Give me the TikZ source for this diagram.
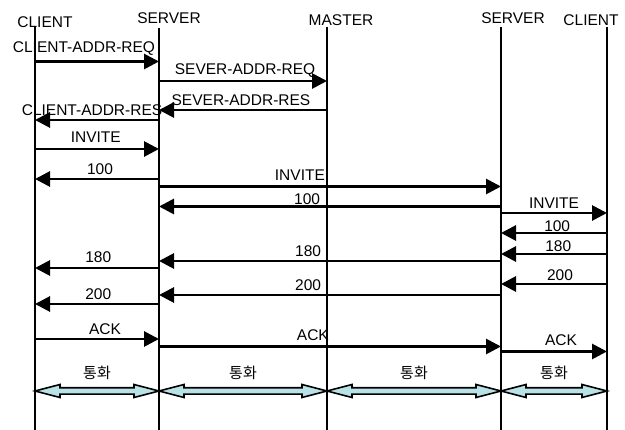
\documentclass[tikz,border=0pt]{standalone}
\usepackage{fontspec}
\setmainfont{Liberation Sans}
\newfontfamily\krfont{Noto Sans CJK KR}
\usetikzlibrary{arrows.meta,calc}
\definecolor{talkfill}{RGB}{184,226,230}

\begin{document}
\begin{tikzpicture}[x=1pt, y=-1pt, >={Triangle[length=15pt,width=15pt]},
        msg/.style={->, line width=2.8pt},
        life/.style={line width=1.8pt},
        lbl/.style={font=\fontsize{15.5}{17}\selectfont, inner sep=0pt},
        talk/.style={draw, line width=1.6pt, fill=talkfill, line join=miter}]
        \useasboundingbox (0,0) rectangle (625,430);
        % heads of the columns
        \node[lbl] (cl1) at (45,22) {CLIENT};
        \node[lbl] (sv1) at (169,18.5) {SERVER};
        \node[lbl] (ms) at (341,20) {MASTER};
        \node[lbl] (sv2) at (513,18) {SERVER};
        \node[lbl] (cl2) at (591,20) {CLIENT};
        % life lines
        \coordinate (lcl1) at (35,26);
        \coordinate (lsv1) at (159,28);
        \coordinate (lms) at (327,27);
        \coordinate (lsv2) at (501,27);
        \coordinate (lcl2) at (607,27);
        \draw[life] (lcl1) -- (lcl1 |- 0,430);
        \draw[life] (lsv1) -- (lsv1 |- 0,430);
        \draw[life] (lms) -- (lms |- 0,430);
        \draw[life] (lsv2) -- (lsv2 |- 0,430);
        \draw[life] (lcl2) -- (lcl2 |- 0,430);
        % address lookup
        \draw[msg] (lcl1 |- 0,61.5) -- (lsv1 |- 0,61.5) node[lbl, pos=0.395, yshift=13pt] {CLIENT-ADDR-REQ};
        \draw[msg] (lsv1 |- 0,81) -- (lms |- 0,81) node[lbl, pos=0.512, yshift=10.5pt] {SEVER-ADDR-REQ};
        \draw[msg] (lms |- 0,110) -- (lsv1 |- 0,110) node[lbl, pos=0.512, yshift=10pt] {SEVER-ADDR-RES};
        \draw[msg] (lsv1 |- 0,120) -- (lcl1 |- 0,120) node[lbl, pos=0.54, yshift=10pt] {CLIENT-ADDR-RES};
        % call setup
        \draw[msg] (lcl1 |- 0,149) -- (lsv1 |- 0,149) node[lbl, pos=0.49, yshift=12pt] {INVITE};
        \draw[msg] (lsv1 |- 0,179) -- (lcl1 |- 0,179) node[lbl, pos=0.476, yshift=9.5pt] {100};
        \draw[msg] (lsv1 |- 0,186.5) -- (lsv2 |- 0,186.5) node[lbl, pos=0.412, yshift=11pt] {INVITE};
        \draw[msg] (lsv2 |- 0,206.5) -- (lsv1 |- 0,206.5) node[lbl, pos=0.567, yshift=7pt] {100};
        \draw[msg] (lsv2 |- 0,213) -- (lcl2 |- 0,213) node[lbl, pos=0.5, yshift=9.5pt] {INVITE};
        \draw[msg] (lcl2 |- 0,233) -- (lsv2 |- 0,233) node[lbl, pos=0.47, yshift=6.5pt] {100};
        \draw[msg] (lcl2 |- 0,254) -- (lsv2 |- 0,254) node[lbl, pos=0.46, yshift=8pt] {180};
        \draw[msg] (lsv2 |- 0,261) -- (lsv1 |- 0,261) node[lbl, pos=0.564, yshift=10pt] {180};
        \draw[msg] (lsv1 |- 0,268) -- (lcl1 |- 0,268) node[lbl, pos=0.49, yshift=10.5pt] {180};
        \draw[msg] (lcl2 |- 0,284) -- (lsv2 |- 0,284) node[lbl, pos=0.443, yshift=8.5pt] {200};
        \draw[msg] (lsv2 |- 0,295) -- (lsv1 |- 0,295) node[lbl, pos=0.564, yshift=10pt] {200};
        \draw[msg] (lsv1 |- 0,304) -- (lcl1 |- 0,304) node[lbl, pos=0.49, yshift=10pt] {200};
        \draw[msg] (lcl1 |- 0,339) -- (lsv1 |- 0,339) node[lbl, pos=0.565, yshift=10pt] {ACK};
        \draw[msg] (lsv1 |- 0,346.5) -- (lsv2 |- 0,346.5) node[lbl, pos=0.45, yshift=11pt] {ACK};
        \draw[msg] (lsv2 |- 0,351.5) -- (lcl2 |- 0,351.5) node[lbl, pos=0.566, yshift=11pt] {ACK};
        % talking
        \foreach \a/\b in {lcl1/lsv1, lsv1/lms, lms/lsv2, lsv2/lcl2} {
          \filldraw[talk] (\a |- 0,391) coordinate (ta) (\b |- 0,391) coordinate (tb)
            (ta) -- ++(25,-6.5) -- ++(0,3.3) -- ($(tb)+(-25,-3.2)$) -- ++(0,-3.3) -- (tb)
            -- ++(-25,6.5) -- ++(0,-3.3) -- ($(ta)+(25,3.2)$) -- ++(0,3.3) -- cycle;
          \node[lbl, font=\krfont\fontsize{15}{17}\selectfont] at ($(ta)!0.5!(tb)+(0,-18)$) {통화};
        }
      \end{tikzpicture}
\end{document}
